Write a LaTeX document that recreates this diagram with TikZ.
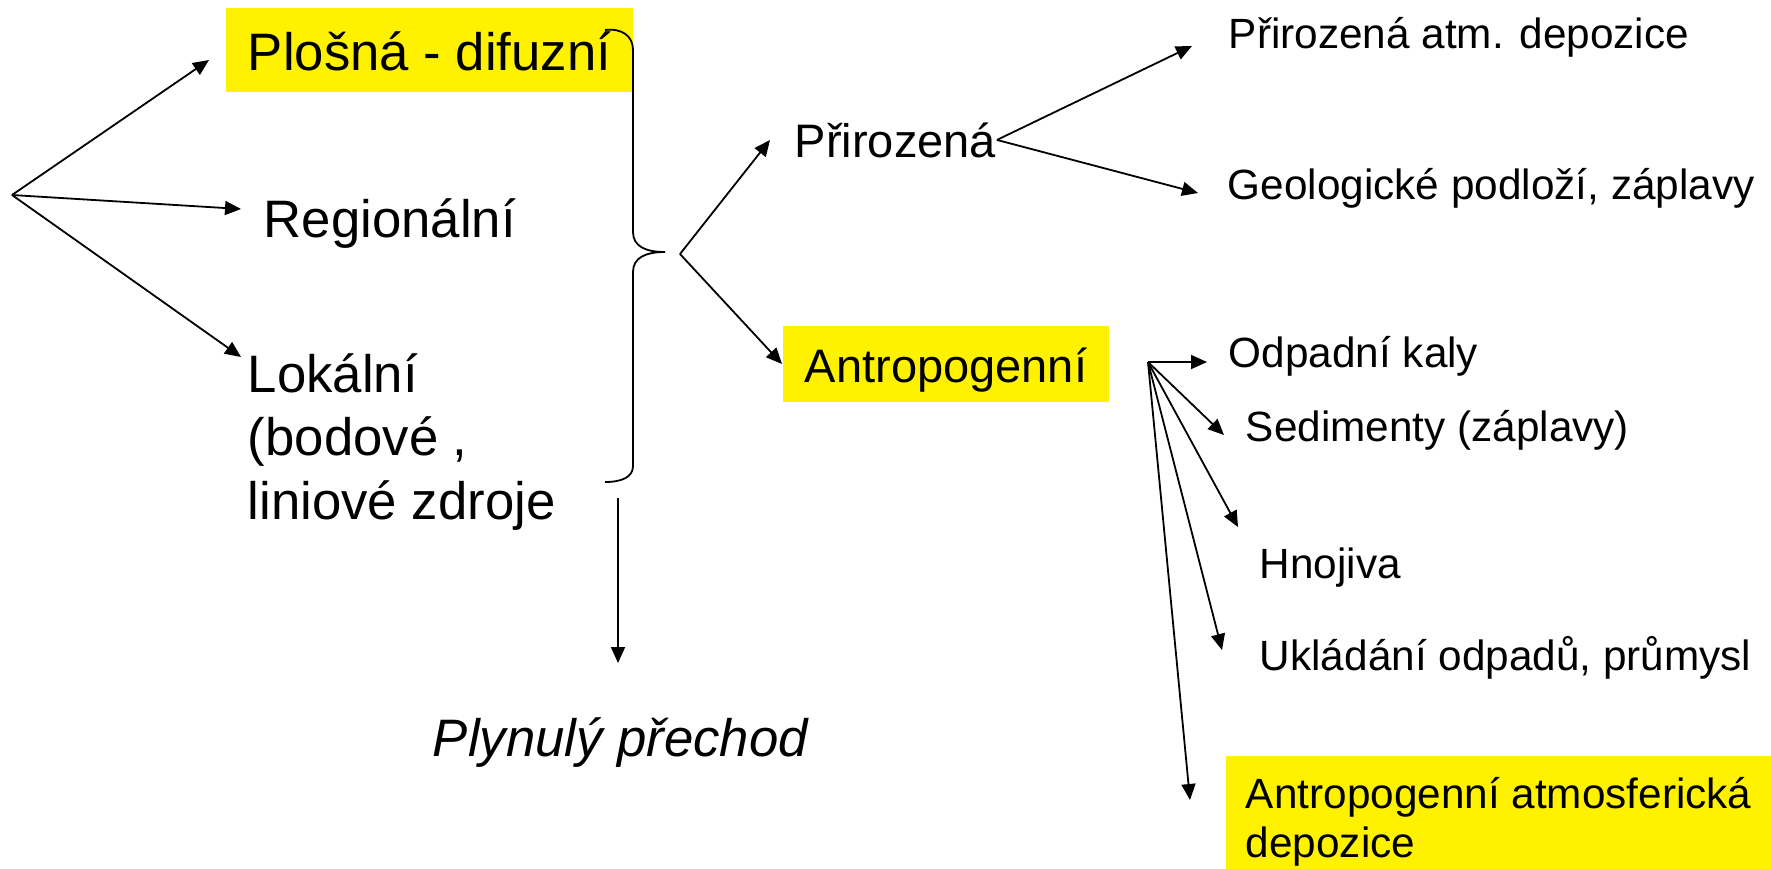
\documentclass[tikz,border=0pt]{standalone}
\usepackage{fontspec}
\setmainfont{Liberation Sans}
\usetikzlibrary{arrows.meta}
\begin{document}
\begin{tikzpicture}[x=1pt,y=-1pt, line width=1.8pt,
  arr/.style={-{Triangle[length=16pt,width=14pt]}},
  big/.style={font=\fontsize{52.7}{63.5}\selectfont, inner sep=0pt, anchor=base west},
  mid/.style={font=\fontsize{47}{56}\selectfont, inner sep=0pt, anchor=base west},
  sml/.style={font=\fontsize{42.3}{49}\selectfont, inner sep=0pt, anchor=base west},
  hl/.style={fill=yellow}]
\useasboundingbox (0,0) rectangle (1771,868);

% left column
\node[big, hl, inner xsep=22pt, text height=62pt, text depth=22pt] (plosna) at (225,70) {Plošná - difuzní};
\node[big] (region) at (263,237) {Regionální};
\node[big] (lokal) at (247,392) {\begin{tabular}[t]{@{}l@{}}Lokální\\(bodové ,\\liniové zdroje\end{tabular}};
\node[font=\fontsize{52.7}{63.5}\selectfont\itshape, inner sep=0pt, anchor=base west] (plyn) at (432,756) {Plynulý přechod};

% middle
\node[mid] (prir) at (794,157) {Přirozená};
\node[mid, hl, inner xsep=22pt, text height=56pt, text depth=20pt] (antro) at (782,382) {Antropogenní};

% right
\node[sml] (natdep) at (1228,48) {Přirozená atm. depozice};
\node[sml] (geol) at (1227,199) {Geologické podloží, záplavy};
\node[sml] (kaly) at (1228,367) {Odpadní kaly};
\node[sml] (sed) at (1245,441) {Sedimenty (záplavy)};
\node[sml] (hnoj) at (1259,578) {Hnojiva};
\node[sml] (uklad) at (1259,670) {Ukládání odpadů, průmysl};
\node[sml, hl, inner xsep=20pt, inner ysep=18pt] (atm) at (1225,808) {\begin{tabular}[t]{@{}l@{}}Antropogenní atmosferická\\depozice\end{tabular}};

% coordinates
\coordinate (src) at (12,195);
\coordinate (tPl) at (209,60);
\coordinate (tRe) at (241,209);
\coordinate (tLo) at (241,357);
\coordinate (fork) at (680,254);
\coordinate (tPr) at (770,140);
\coordinate (tNd) at (1192,46);
\coordinate (tGe) at (1198,193);
\coordinate (af) at (1148,362);
\coordinate (tKa) at (1207,362);
\coordinate (tSe) at (1224,435);
\coordinate (tHn) at (1238,527);
\coordinate (tUk) at (1222,650);
\coordinate (tAt) at (1190,800);
\coordinate (vs) at (618,498);
\coordinate (ve) at (618,663);

% arrows left
\draw[arr] (src) -- (tPl);
\draw[arr] (src) -- (tRe);
\draw[arr] (src) -- (tLo);

% brace
\draw (605,30) .. controls (622,28) and (633,36) .. (633,50) -- (633,232)
  .. controls (633,246) and (645,252) .. (665,252)
  .. controls (645,252) and (633,258) .. (633,272) -- (633,466)
  .. controls (633,477) and (622,482) .. (605,482);

\draw[arr] (vs) -- (ve);

% middle arrows
\draw[arr] (fork) -- (tPr);
\draw[arr] (fork) -- (antro.west);

% right arrows
\draw[arr] (prir.east) -- (tNd);
\draw[arr] (prir.east) -- (tGe);
\draw[arr] (af) -- (tKa);
\draw[arr] (af) -- (tSe);
\draw[arr] (af) -- (tHn);
\draw[arr] (af) -- (tUk);
\draw[arr] (af) -- (tAt);
\end{tikzpicture}
\end{document}
